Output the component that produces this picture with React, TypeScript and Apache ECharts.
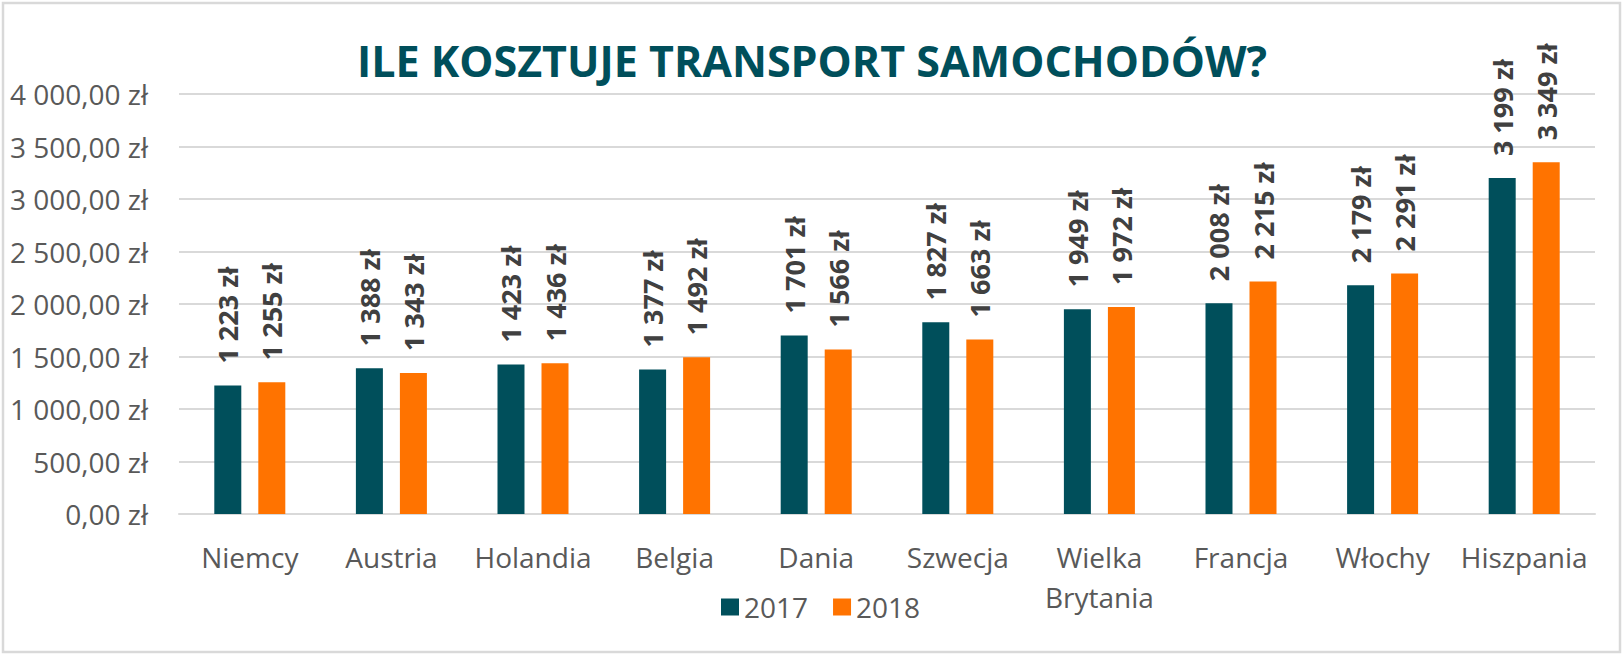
import React, { useEffect, useRef } from "react";
import * as echarts from "echarts";

const categories = ["Niemcy", "Austria", "Holandia", "Belgia", "Dania", "Szwecja", "Wielka Brytania", "Francja", "Włochy", "Hiszpania"];
const values2017 = [1223, 1388, 1423, 1377, 1701, 1827, 1949, 2008, 2179, 3199];
const values2018 = [1255, 1343, 1436, 1492, 1566, 1663, 1972, 2215, 2291, 3349];
const seriesNames = ["2017", "2018"];
const titleText = "ILE KOSZTUJE TRANSPORT SAMOCHODÓW?";

const groupThousands = (n: number) => String(Math.round(n)).replace(/\B(?=(\d{3})+(?!\d))/g, " ");

export default function App() {
  const ref = useRef<HTMLDivElement>(null);
  useEffect(() => {
    if (!ref.current) return;
    const chart = echarts.init(ref.current, null, { renderer: "svg" });
    const font = "'Open Sans', sans-serif";
    const barLabel = {
      show: true,
      position: "top",
      rotate: 90,
      align: "left",
      verticalAlign: "middle",
      distance: 22,
      fontFamily: font,
      fontWeight: "bold",
      fontSize: 27,
      color: "#404040",
      formatter: (p: any) => groupThousands(p.value) + " zł",
    };
    chart.setOption({
      animation: false,
      backgroundColor: "#ffffff",
      title: {
        text: titleText,
        left: "center",
        top: 34,
        textStyle: { fontFamily: font, fontWeight: "bold", fontSize: 43, color: "#004F5B" },
      },
      legend: {
        data: seriesNames,
        left: 716,
        top: 588,
        itemWidth: 18,
        itemHeight: 17,
        itemGap: 25,
        icon: "rect",
        textStyle: { fontFamily: font, fontSize: 28, color: "#595959" },
      },
      graphic: [
        {
          type: "rect",
          shape: { x: 3, y: 3, width: 1617, height: 649 },
          style: { fill: "none", stroke: "#d9d9d9", lineWidth: 2.5 },
          silent: true,
        },
      ],
      grid: { left: 179, right: 29, top: 94, bottom: 141, containLabel: false },
      xAxis: {
        type: "category",
        data: categories,
        axisLine: { show: true, lineStyle: { color: "#d9d9d9", width: 2 } },
        axisTick: { show: false },
        axisLabel: {
          interval: 0,
          margin: 23,
          fontFamily: font,
          fontSize: 28,
          lineHeight: 40,
          color: "#595959",
          formatter: (v: string) => v.replace(" ", "\n"),
        },
      },
      yAxis: {
        type: "value",
        min: 0,
        max: 4000,
        interval: 500,
        axisLine: { show: false },
        axisTick: { show: false },
        splitLine: { lineStyle: { color: "#d9d9d9", width: 2 } },
        axisLabel: {
          margin: 31,
          fontFamily: font,
          fontSize: 28,
          color: "#595959",
          formatter: (v: number) => groupThousands(v) + ",00 zł",
        },
      },
      series: [
        {
          name: seriesNames[0],
          type: "bar",
          data: values2017,
          barWidth: 27,
          barGap: "63%",
          itemStyle: { color: "#004F5B" },
          label: barLabel,
        },
        {
          name: seriesNames[1],
          type: "bar",
          data: values2018,
          barWidth: 27,
          barGap: "63%",
          itemStyle: { color: "#FF7300" },
          label: barLabel,
        },
      ],
    });
    return () => chart.dispose();
  }, []);
  return (
    <div
      ref={ref}
      style={{ position: "fixed", left: 0, top: 0, width: 1624, height: 655 }}
    />
  );
}
